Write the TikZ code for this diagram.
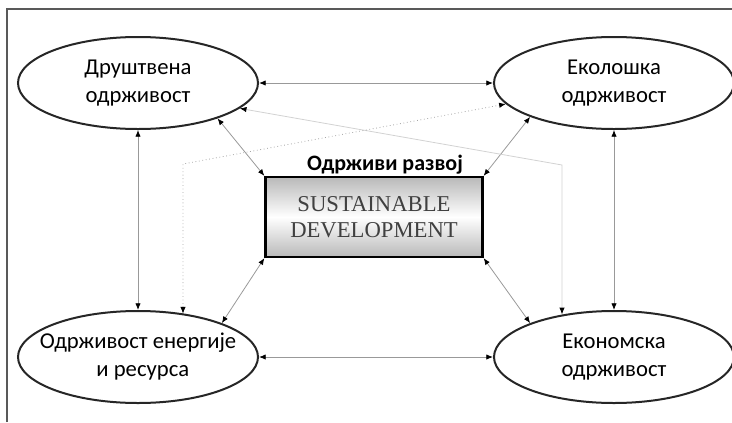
\documentclass[tikz,border=0pt]{standalone}
\usepackage{fontspec}
\setmainfont{Liberation Serif}
\newfontfamily\calibri{Carlito}
\usetikzlibrary{positioning,arrows.meta,shapes.geometric}

\begin{document}
\begin{tikzpicture}[
    x=0.75pt,y=-0.75pt,
    node distance=175.5pt,
    pillar/.style={draw=black!85,ellipse,line width=1.5pt,minimum width=180pt,minimum height=69pt,inner xsep=-15pt,inner ysep=0pt,align=center,font=\calibri\fontsize{17}{21}\selectfont},
    core/.style={draw=black,line width=1.7pt,minimum width=162.75pt,minimum height=60pt,align=center,top color=gray!55,bottom color=gray!55,middle color=white,text=black!75,font=\fontsize{17}{19}\selectfont},
    link/.style={<->,>={Latex[length=5pt,width=4pt,color=black]},draw=gray!80,line width=0.6pt},
    faint/.style={link,draw=gray!35},
    dots/.style={link,dotted,draw=gray!70},
    frame/.style={draw=black!65,line width=1.1pt},
  ]
    \useasboundingbox (0,0) rectangle (732,422);
    \draw[frame] (7,422) -- (7,9) -- (732,9);

    \node[pillar] (social) at (138,83) {Друштвена\\одрживост};
    \node[pillar,right=of social] (ecology) {Еколошка\\одрживост};
    \node[pillar,below=135pt of social,align=left] (energy) {Одрживост енергије\\\hspace*{2.5em}и ресурса};
    \node[pillar,right=of energy] (economy) {Економска\\одрживост};

    \node[core] (core) at (374,217) {SUSTAINABLE\\DEVELOPMENT};
    \node[font=\calibri\bfseries\fontsize{16.5}{18}\selectfont,anchor=base] (title) at (385,170) {Одрживи развој};

    \coordinate (bendE) at (562,165);
    \coordinate (bendW) at (183,164);

    \draw[link] (social) -- (ecology);
    \draw[link] (social) -- (energy);
    \draw[link] (ecology) -- (economy);
    \draw[link] (energy) -- (economy);
    \draw[link] (social.-24) -- (core.north west);
    \draw[link] (ecology.-158) -- (core.north east);
    \draw[link] (energy.22) -- (core.south west);
    \draw[link] (economy.158) -- (core.south east);
    \draw[faint] (social.-14) -- (bendE) -- (bendE |- economy.140);
    \draw[dots] (ecology.-169) -- (bendW) -- (bendW |- energy.43);
  \end{tikzpicture}
\end{document}
